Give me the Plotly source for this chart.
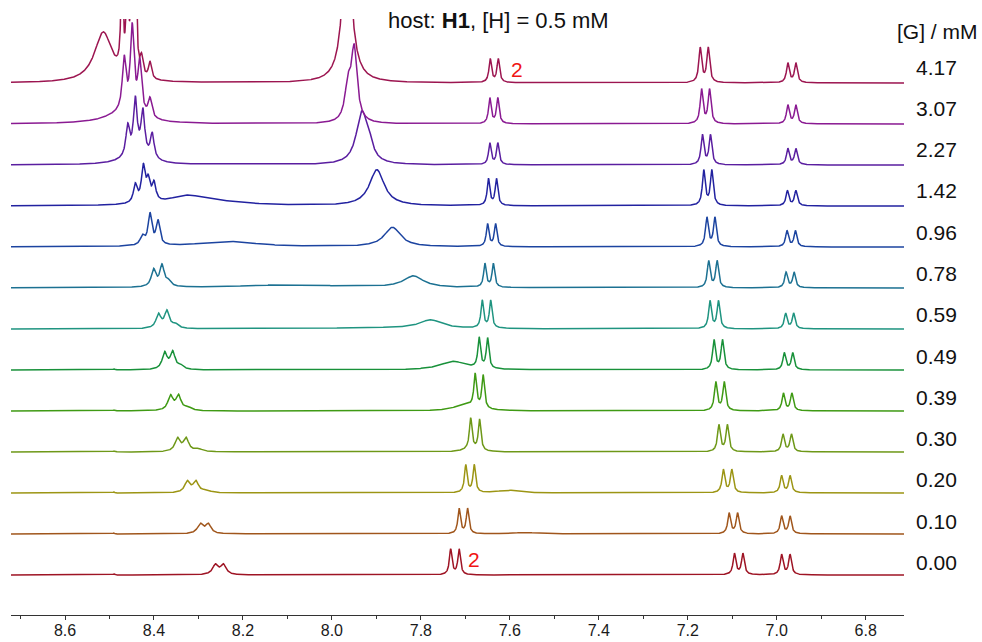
import numpy as np
import plotly.graph_objects as go

# ---------------- data ----------------
# guest concentrations, bottom to top
conc_labels = ["0.00", "0.10", "0.20", "0.30", "0.39", "0.49", "0.59",
               "0.78", "0.96", "1.42", "2.27", "3.07", "4.17"]

trace_colors = ["#9E1424", "#A0561C", "#9C9514", "#6E9818", "#3F9A14",
                "#18913A", "#1F9480", "#1C7192", "#1C44A0", "#2222A0",
                "#5A1EA0", "#8A1A92", "#9C1550"]

# peaks: (chemical shift / ppm, intensity, half width / ppm)
pk_0_00 = [(8.490, 1.2, 0.002), (8.262, 9.8, 0.0075), (8.244, 9.8, 0.0075),
           (7.733, 25.5, 0.0035), (7.714, 25.5, 0.0035),
           (7.095, 21.0, 0.0038), (7.076, 21.0, 0.0038),
           (6.989, 20.0, 0.0038), (6.970, 20.0, 0.0038)]
pk_0_10 = [(8.490, 1.0, 0.002), (8.296, 9.5, 0.0075), (8.278, 9.5, 0.0075),
           (7.714, 25.0, 0.0035), (7.695, 25.0, 0.0035), (7.565, 1.5, 0.03),
           (7.107, 20.5, 0.0038), (7.088, 20.5, 0.0038),
           (6.989, 17.5, 0.0038), (6.970, 17.5, 0.0038)]
pk_0_20 = [(8.490, 1.0, 0.002), (8.325, 11.0, 0.0072), (8.306, 11.0, 0.0072),
           (8.283, 2.0, 0.012),
           (7.699, 27.5, 0.0035), (7.680, 27.5, 0.0035), (7.605, 2.8, 0.025),
           (7.120, 23.0, 0.0038), (7.101, 23.0, 0.0038),
           (6.989, 17.0, 0.0038), (6.970, 17.0, 0.0038)]
pk_0_30 = [(8.490, 1.0, 0.002), (8.347, 13.0, 0.007), (8.328, 13.0, 0.007),
           (8.300, 2.5, 0.012),
           (7.688, 31.0, 0.0035), (7.668, 31.0, 0.0035), (7.690, 2.5, 0.02),
           (7.130, 26.5, 0.0038), (7.111, 26.5, 0.0038),
           (6.986, 17.5, 0.0038), (6.967, 17.5, 0.0038)]
pk_0_39 = [(8.490, 1.0, 0.002), (8.363, 14.5, 0.0068), (8.345, 14.5, 0.0068),
           (8.324, 3.0, 0.01),
           (7.700, 6.0, 0.03), (7.678, 33.0, 0.0035), (7.660, 33.0, 0.0035),
           (7.137, 28.5, 0.0038), (7.118, 28.5, 0.0038),
           (6.985, 17.5, 0.0038), (6.966, 17.5, 0.0038)]
pk_0_49 = [(8.490, 1.0, 0.002), (8.376, 16.5, 0.0065), (8.358, 17.0, 0.0065),
           (8.340, 3.5, 0.008),
           (7.727, 8.5, 0.035), (7.669, 30.0, 0.0035), (7.650, 30.0, 0.0035),
           (7.141, 29.5, 0.0038), (7.122, 29.5, 0.0038),
           (6.983, 16.8, 0.0038), (6.964, 16.8, 0.0038)]
pk_0_59 = [(8.390, 14.0, 0.0065), (8.371, 17.0, 0.0065), (8.352, 4.0, 0.008),
           (7.900, 1.2, 0.15), (7.778, 8.5, 0.03),
           (7.662, 27.5, 0.0035), (7.643, 27.5, 0.0035),
           (7.150, 27.5, 0.0038), (7.131, 27.5, 0.0038),
           (6.980, 15.3, 0.0038), (6.962, 15.3, 0.0038)]
pk_0_78 = [(8.401, 17.0, 0.006), (8.382, 21.0, 0.006), (8.367, 5.0, 0.007),
           (8.100, 3.0, 0.15), (7.817, 11.5, 0.027),
           (7.656, 23.5, 0.0035), (7.637, 23.5, 0.0035),
           (7.153, 26.5, 0.0038), (7.134, 26.5, 0.0038),
           (6.979, 15.3, 0.0038), (6.961, 15.3, 0.0038)]
pk_0_96 = [(8.426, 9.0, 0.006), (8.409, 31.0, 0.005), (8.391, 24.0, 0.005),
           (8.236, 5.5, 0.08), (7.864, 19.5, 0.022),
           (7.650, 22.5, 0.0035), (7.632, 22.5, 0.0035),
           (7.157, 29.0, 0.0038), (7.139, 29.0, 0.0038),
           (6.977, 16.0, 0.0038), (6.958, 16.0, 0.0038)]
pk_1_42 = [(8.442, 18.0, 0.005), (8.424, 35.0, 0.005), (8.413, 20.0, 0.005),
           (8.400, 18.0, 0.005), (8.326, 9.0, 0.05), (8.250, 3.0, 0.08),
           (7.899, 36.0, 0.02),
           (7.648, 26.5, 0.0035), (7.630, 26.5, 0.0035),
           (7.164, 35.0, 0.0038), (7.146, 35.0, 0.0038),
           (6.976, 15.0, 0.0038), (6.957, 15.0, 0.0038)]
pk_2_27 = [(8.459, 30.0, 0.005), (8.442, 55.0, 0.005), (8.425, 44.0, 0.005),
           (8.404, 25.0, 0.005), (8.440, 8.0, 0.04),
           (7.933, 50.0, 0.015), (7.917, 14.0, 0.01),
           (7.645, 21.5, 0.0035), (7.627, 21.5, 0.0035),
           (7.167, 29.5, 0.0038), (7.149, 29.5, 0.0038),
           (6.975, 16.0, 0.0038), (6.957, 16.0, 0.0038)]
pk_3_07 = [(8.467, 52.0, 0.005), (8.449, 85.0, 0.005), (8.432, 52.0, 0.005),
           (8.409, 19.0, 0.005), (8.470, 10.0, 0.05),
           (7.964, 33.0, 0.008), (7.950, 72.0, 0.008),
           (7.645, 25.5, 0.0035), (7.627, 25.5, 0.0035),
           (7.169, 34.0, 0.0038), (7.151, 34.0, 0.0038),
           (6.975, 18.5, 0.0038), (6.957, 18.5, 0.0038)]
pk_4_17 = [(8.514, 50.0, 0.024), (8.472, 120.0, 0.0025), (8.460, 120.0, 0.0025),
           (8.450, 120.0, 0.0025), (8.441, 120.0, 0.0025),
           (8.428, 19.0, 0.004), (8.409, 17.0, 0.004),
           (7.966, 150.0, 0.012),
           (7.644, 23.5, 0.0035), (7.626, 23.5, 0.0035),
           (7.172, 34.5, 0.0038), (7.154, 34.5, 0.0038),
           (6.975, 19.5, 0.0038), (6.957, 19.5, 0.0038)]

peak_lists = [pk_0_00, pk_0_10, pk_0_20, pk_0_30, pk_0_39, pk_0_49, pk_0_59,
              pk_0_78, pk_0_96, pk_1_42, pk_2_27, pk_3_07, pk_4_17]

x_ticks = [8.6, 8.4, 8.2, 8.0, 7.8, 7.6, 7.4, 7.2, 7.0, 6.8]
title_text = "host: <b>H1</b>, [H] = 0.5 mM"
conc_title = "[G] / mM"
label_2 = "2"

# ---------------- layout constants ----------------
W, H = 982, 642
M_L, M_R, M_T, M_B = 11, 78, 19, 27
X_LEFT, X_RIGHT = 8.7214, 6.7139
Y_TOP = H - M_T - M_B           # 1 data unit = 1 px
BASE0, STEP = 40.0, 41.0        # baseline of first trace, stacking step
LAB0, LSTEP = 52.5, 41.29       # concentration label positions
FONT = "Liberation Sans, Arial, sans-serif"

ppm = np.linspace(X_LEFT, X_RIGHT, 5000)


def spectrum(peaks):
    y = np.zeros_like(ppm)
    for c, h, w in peaks:
        y += h / (1.0 + ((ppm - c) / w) ** 2)
    return y


fig = go.Figure()
for i, (pk, col) in enumerate(zip(peak_lists, trace_colors)):
    fig.add_trace(go.Scatter(
        x=ppm, y=spectrum(pk) + BASE0 + STEP * i, mode="lines",
        line=dict(color=col, width=1.5), hoverinfo="skip", showlegend=False))

annotations = []
for i, lab in enumerate(conc_labels):
    annotations.append(dict(
        text=lab, xref="paper", yref="y", x=1.0, xshift=32, y=LAB0 + LSTEP * i,
        xanchor="center", yanchor="middle", showarrow=False,
        font=dict(family=FONT, size=21, color="#111111")))
annotations.append(dict(
    text=conc_title, xref="paper", yref="y", x=1.0, xshift=33, y=Y_TOP - 12,
    xanchor="center", yanchor="middle", showarrow=False,
    font=dict(family=FONT, size=21, color="#111111")))
annotations.append(dict(
    text=title_text, xref="paper", yref="paper",
    x=(499 - M_L) / (W - M_L - M_R), y=1.0, yshift=-1,
    xanchor="center", yanchor="middle", showarrow=False,
    font=dict(family=FONT, size=22, color="#111111")))
annotations.append(dict(
    text=label_2, xref="x", yref="y", x=7.585, y=BASE0 + STEP * 12 + 14,
    xanchor="center", yanchor="middle", showarrow=False,
    font=dict(family=FONT, size=21, color="#F01414")))
annotations.append(dict(
    text=label_2, xref="x", yref="y", x=7.681, y=BASE0 + 16,
    xanchor="center", yanchor="middle", showarrow=False,
    font=dict(family=FONT, size=21, color="#F01414")))

fig.update_layout(
    width=W, height=H, margin=dict(l=M_L, r=M_R, t=M_T, b=M_B, pad=0,
                                   autoexpand=False),
    paper_bgcolor="white", plot_bgcolor="white",
    annotations=annotations, showlegend=False,
    xaxis=dict(range=[X_LEFT, X_RIGHT], tickvals=x_ticks,
               ticktext=[f"{v:.1f}" for v in x_ticks], automargin=False,
               showgrid=False, zeroline=False, showline=True,
               linecolor="#333333", linewidth=1,
               ticks="outside", ticklen=4, tickcolor="#333333",
               ticklabelstandoff=-3,
               minor=dict(dtick=0.1, ticks="outside", ticklen=3,
                          tickcolor="#333333", showgrid=False),
               tickfont=dict(family=FONT, size=16, color="#1a1a1a")),
    yaxis=dict(range=[0, Y_TOP], visible=False, showgrid=False,
               zeroline=False, fixedrange=True, automargin=False),
)

fig.write_html("out.html")
